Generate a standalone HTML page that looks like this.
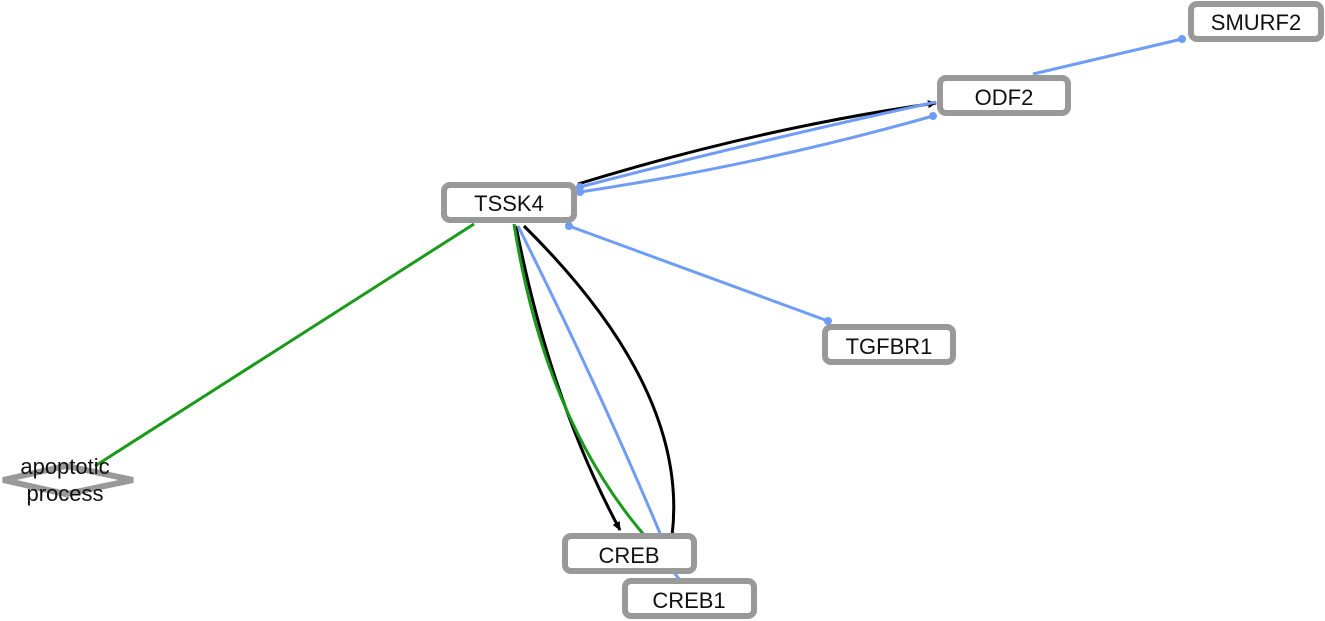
<!DOCTYPE html>
<html><head><style>body{margin:0;background:#fff}svg{display:block}</style></head><body>
<svg width="1325" height="621" viewBox="0 0 1325 621" xmlns="http://www.w3.org/2000/svg" font-family="Liberation Sans, sans-serif">
<defs><marker id="a" markerWidth="10" markerHeight="10" refX="8" refY="4" orient="auto" markerUnits="userSpaceOnUse"><path d="M0,0 L9,4 L0,8 Z" fill="#000"/></marker></defs>
<g fill="none" stroke-width="3">
<line x1="474" y1="224" x2="95" y2="466" stroke="#1a9a1a"/>
<line x1="569" y1="226" x2="828" y2="321" stroke="#6f9cf5"/>
<line x1="1182" y1="39" x2="1033" y2="74" stroke="#6f9cf5"/>
<path d="M578,184 Q760,128 936,103" stroke="#000" marker-end="url(#a)"/>
<path d="M580,187 Q760,140 936,102" stroke="#6f9cf5"/>
<path d="M580,192 Q760,165 933,116" stroke="#6f9cf5"/>
<path d="M516,226 Q550,400 620,530" stroke="#000" marker-end="url(#a)"/>
<path d="M514,224 Q545,420 645,536" stroke="#1a9a1a"/>
<path d="M518,226 Q600,390 662,538" stroke="#6f9cf5"/>
<path d="M524,226 Q690,390 672,536" stroke="#000"/>
<path d="M672,570 L680,580" stroke="#6f9cf5"/>
</g>
<g fill="#6f9cf5">
<circle cx="569" cy="226" r="4"/><circle cx="828" cy="321" r="4"/><circle cx="1182" cy="39" r="4"/>
<circle cx="580" cy="187" r="4"/><circle cx="580" cy="192" r="4"/><circle cx="933" cy="116" r="4"/>
</g>
<g fill="#fff" stroke="#999" stroke-width="6">
<polygon points="3,480 66,466 133,480 66,494"/>
<rect x="444" y="185" width="130" height="35" rx="6"/>
<rect x="940" y="78" width="128" height="35" rx="6"/>
<rect x="1191" y="4" width="130" height="35" rx="6"/>
<rect x="825" y="327" width="128" height="35" rx="6"/>
<rect x="565" y="536" width="129" height="35" rx="6"/>
<rect x="625" y="581" width="129" height="35" rx="6"/>
</g>
<g font-size="22" fill="#111" text-anchor="middle">
<text x="509" y="211">TSSK4</text>
<text x="1004" y="105">ODF2</text>
<text x="1256" y="30">SMURF2</text>
<text x="889" y="354">TGFBR1</text>
<text x="629" y="563">CREB</text>
<text x="689" y="608">CREB1</text>
<text x="65" y="474">apoptotic</text>
<text x="65" y="501">process</text>
</g>
</svg>
</body></html>
